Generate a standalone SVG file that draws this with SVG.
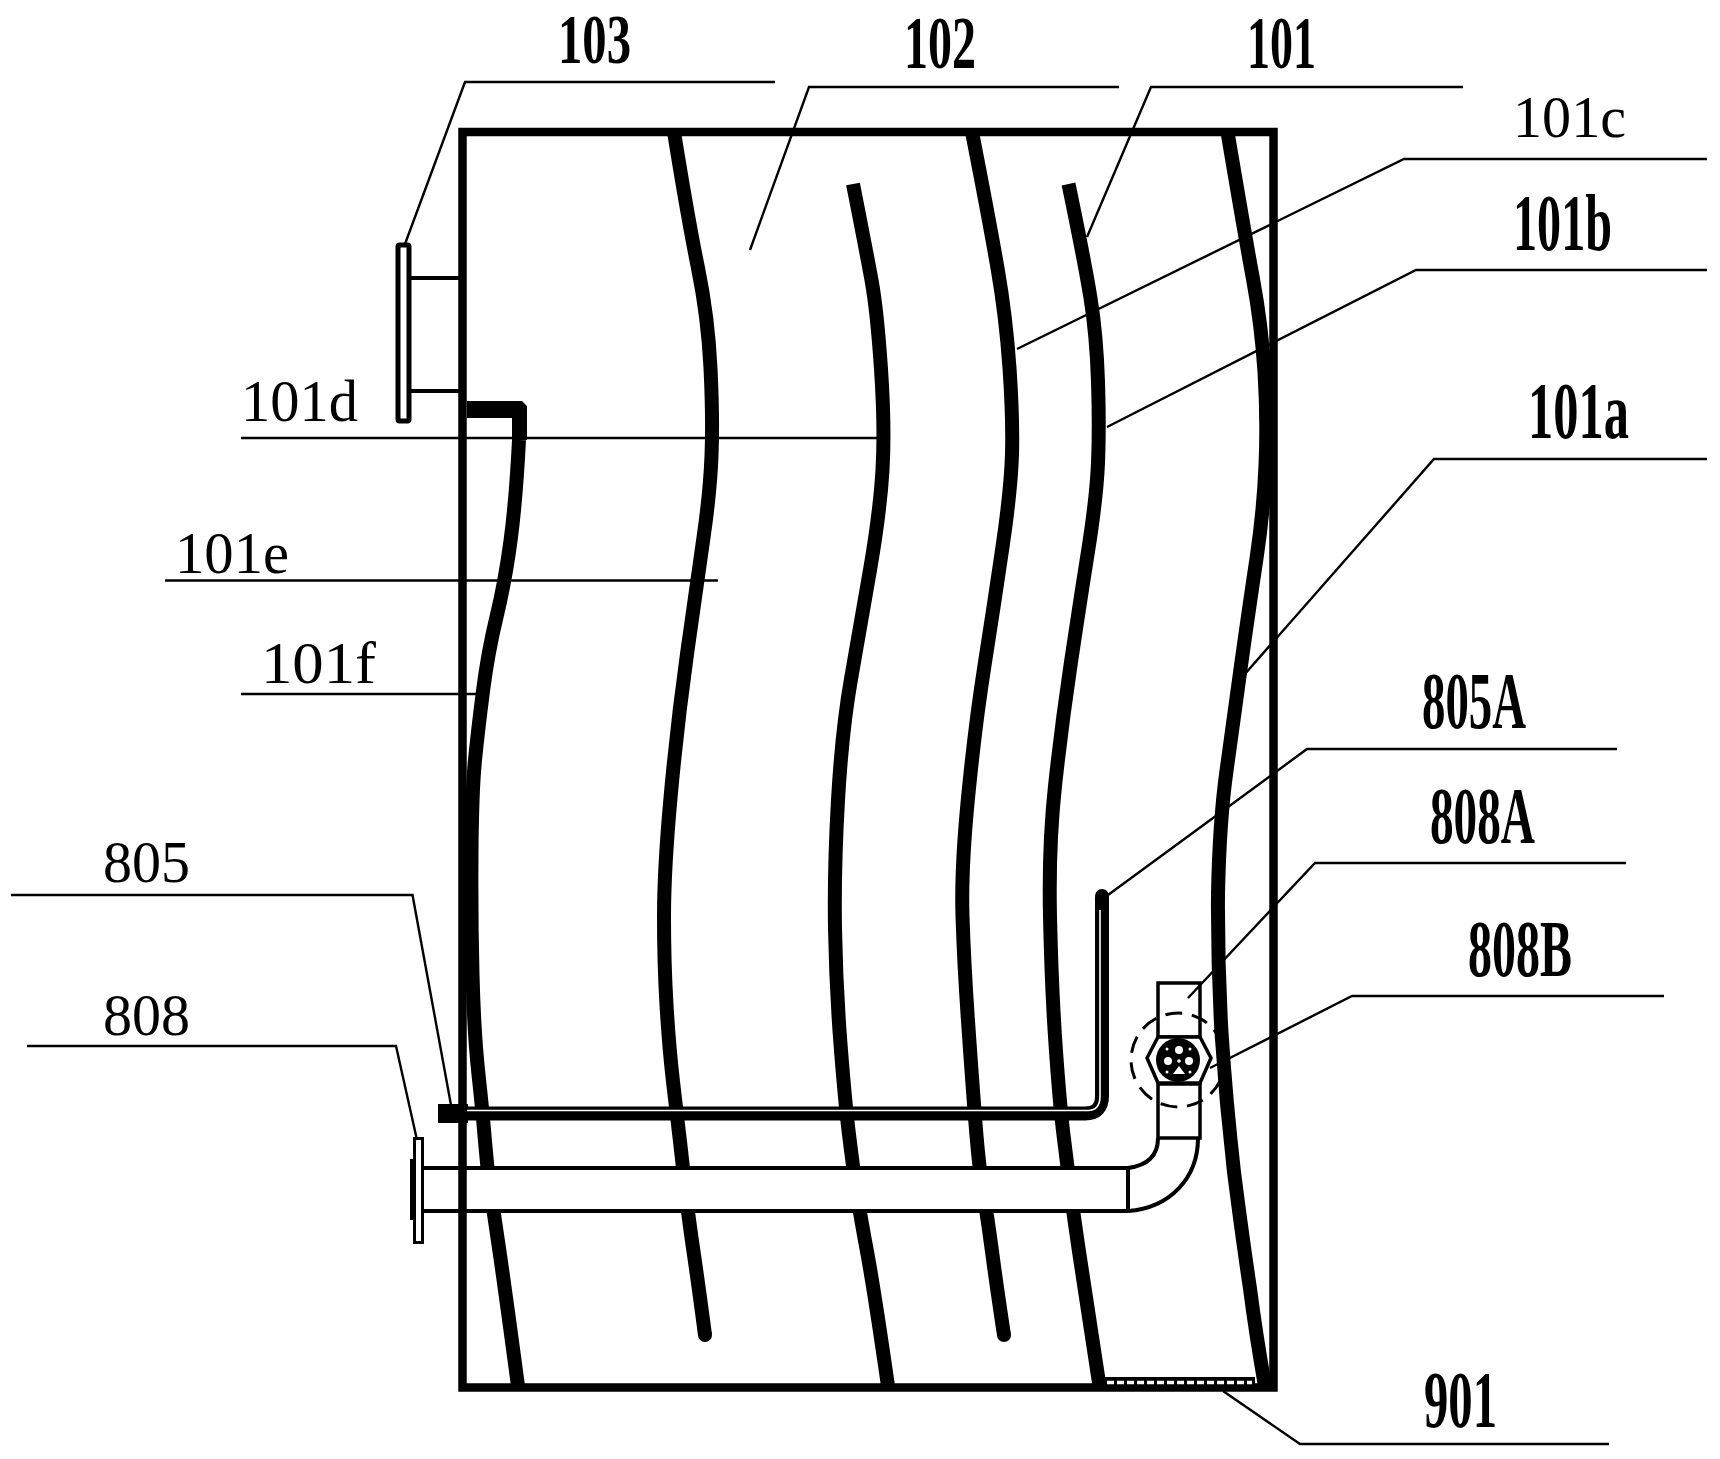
<svg xmlns="http://www.w3.org/2000/svg" width="1720" height="1459" viewBox="0 0 1720 1459">
<style>
.fin{fill:none;stroke:#000;stroke-width:14;stroke-linejoin:round}
.lead{fill:none;stroke:#000;stroke-width:2.4;stroke-linejoin:miter}
.pipe{fill:none;stroke:#000;stroke-width:4}
.heavy{font-family:"Liberation Serif",serif;font-weight:700;fill:#000}
.thin{font-family:"Liberation Serif",serif;font-weight:400;fill:#000}
</style>
<rect width="1720" height="1459" fill="#fff"/>
<g id="fins">
<path class="fin" d="M519 440Q516 500 510.5 541Q505 582 496.5 617Q488 652 483 691Q478 730 475 760Q472 790 471.5 853Q471 916 472.5 974.5Q474 1033 478.5 1074.5Q483 1116 485 1141.5Q487 1167 490.5 1190.5Q494 1214 499.5 1251.5Q505 1289 518 1386"/>
<path class="fin" d="M674 132Q688 219 698 268Q708 317 710.5 368Q713 419 711.5 456Q710 493 703.5 537.5Q697 582 687 654Q677 726 670.5 798Q664 870 664 916.5Q664 963 666.5 1005Q669 1047 673 1081.5Q677 1116 680 1141.5Q683 1167 685.5 1190Q688 1214 693.5 1251.5Q699 1289 705 1335"/>
<circle cx="705" cy="1335" r="7"/>
<path class="fin" d="M853 184Q866 250 871.5 280Q877 310 881 369Q885 428 882.5 470Q880 512 870 570Q860 628 851 679Q842 730 838 800Q834 870 835 928Q836 986 840.5 1044Q845 1102 849 1134.5Q853 1167 856.5 1190.5Q860 1214 867 1251.5Q874 1289 888 1386"/>
<path class="fin" d="M972 132Q989 219 997.5 268Q1006 317 1009.5 368Q1013 419 1012 454Q1011 489 1002.5 547Q994 605 984.5 665.5Q975 726 968 798Q961 870 962.5 916.5Q964 963 968 1021Q972 1079 975.5 1123.5Q979 1168 983 1191Q987 1214 992 1251.5Q997 1289 1004 1335"/>
<circle cx="1004" cy="1335" r="7"/>
<path class="fin" d="M1068.5 184Q1084.5 261 1090.5 298Q1096.5 335 1098 381.5Q1099.5 428 1098 463Q1096.5 498 1088 551.5Q1079.5 605 1070.5 665.5Q1061.5 726 1055 786Q1048.5 846 1050 916Q1051.5 986 1055.5 1044Q1059.5 1102 1063.5 1135Q1067.5 1168 1070.5 1191Q1073.5 1214 1079 1251.5Q1084.5 1289 1099.5 1386"/>
<path class="fin" d="M1227.5 132Q1244.5 233 1253 279Q1261.5 325 1264.5 372Q1267.5 419 1265.5 465.5Q1263.5 512 1256.5 558.5Q1249.5 605 1241 665.5Q1232.5 726 1226 774.5Q1219.5 823 1218 893Q1217.5 963 1221.5 1032.5Q1226 1102 1234 1172Q1243 1242 1250 1288.5Q1256 1335 1265 1386"/>
<path d="M467 401H522L527 406V440H512V418H467Z" fill="#000"/>
</g>
<g id="pipe-808">
<rect x="424" y="1168" width="704" height="43" fill="#fff" stroke="none"/>
<path class="pipe" d="M424 1168H1128M424 1211H1128M1128 1168V1211"/>
<path class="pipe" d="M1128 1168Q1158 1164 1158 1138M1128 1211C1170 1208 1198 1178 1198 1138"/>
<rect x="414.5" y="1138.5" width="8" height="104" fill="#fff" stroke="#000" stroke-width="3"/>
<rect x="410" y="1159" width="4" height="61" fill="#000"/>
</g>
<g id="pipe-805">
<path d="M438 1113.5H1085Q1102 1113.5 1102 1096V897" fill="none" stroke="#000" stroke-width="14"/>
<circle cx="1102" cy="896" r="7" fill="#000"/>
<rect x="438" y="1104" width="30" height="19" fill="#000"/>
<path d="M467 1110.5H1088Q1100 1110.5 1100 1096V910" fill="none" stroke="#fff" stroke-width="1.6"/>
</g>
<g id="valve-808">
<rect x="1158" y="983" width="42" height="54" fill="#fff" stroke="#000" stroke-width="3.5"/>
<rect x="1158" y="1084" width="42" height="54" fill="#fff" stroke="#000" stroke-width="3.5"/>
<path d="M1158 1037L1147 1058L1158 1083H1200L1211 1058L1200 1037Z" fill="#fff" stroke="#000" stroke-width="3.5"/>
<circle cx="1178" cy="1060" r="22" fill="#000"/>
<g fill="#fff">
<circle cx="1179" cy="1050" r="4"/><circle cx="1168" cy="1061" r="4"/><circle cx="1189" cy="1061" r="4"/>
<circle cx="1179" cy="1061" r="1.8"/><path d="M1179 1066L1185 1074H1173Z"/>
<circle cx="1167" cy="1049" r="1.5"/><circle cx="1190" cy="1049" r="1.5"/><circle cx="1167" cy="1072" r="1.5"/><circle cx="1190" cy="1072" r="1.5"/>
</g>
<circle cx="1178" cy="1060" r="47" fill="none" stroke="#000" stroke-width="3" stroke-dasharray="17 9.8" stroke-dashoffset="6"/>
</g>
<g id="housing">
<rect x="462.5" y="132" width="811" height="1255.5" fill="none" stroke="#000" stroke-width="8.5"/>
</g>
<g id="flange-103">
<rect x="398" y="245" width="11" height="176" fill="#fff" stroke="#000" stroke-width="5" rx="1.5"/>
<path class="pipe" d="M411 278H459M411 391H459"/>
</g>
<g id="mesh-901">
<rect x="1104" y="1377" width="151" height="9" fill="#000"/>
<path d="M1107 1382.5H1252" fill="none" stroke="#fff" stroke-width="3.6" stroke-dasharray="7 3"/>
</g>
<g id="connectors">
<path class="lead" d="M405 244L465 82H775"/>
<path class="lead" d="M750 250L809 87H1119"/>
<path class="lead" d="M1087 237L1151 87H1463"/>
<path class="lead" d="M1017 349L1404 159H1707"/>
<path class="lead" d="M1107 427L1416 270H1707"/>
<path class="lead" d="M1244 675L1434 459H1707"/>
<path class="lead" d="M241 438H880"/>
<path class="lead" d="M165 580.5H718" stroke-width="3"/>
<path class="lead" d="M241 694H480"/>
<path class="lead" d="M11 895H412.5L451 1105"/>
<path class="lead" d="M27 1046H396L417 1140"/>
<path class="lead" d="M1108 895L1307 749H1617"/>
<path class="lead" d="M1188 998L1315 863H1626"/>
<path class="lead" d="M1210 1068L1352 996H1664"/>
<path class="lead" d="M1223 1391L1300 1444H1609"/>
</g>
<g id="labels">
<text class="heavy" x="558" y="63" font-size="70" textLength="73" lengthAdjust="spacingAndGlyphs">103</text>
<text class="heavy" x="904" y="67.5" font-size="75" textLength="72" lengthAdjust="spacingAndGlyphs">102</text>
<text class="heavy" x="1247" y="67.5" font-size="75" textLength="69" lengthAdjust="spacingAndGlyphs">101</text>
<text class="thin" x="1513" y="137" font-size="60" textLength="113" lengthAdjust="spacingAndGlyphs">101c</text>
<text class="heavy" x="1513" y="250" font-size="80" textLength="99" lengthAdjust="spacingAndGlyphs">101b</text>
<text class="heavy" x="1528" y="438" font-size="80" textLength="101" lengthAdjust="spacingAndGlyphs">101a</text>
<text class="thin" x="241" y="421" font-size="60" textLength="117" lengthAdjust="spacingAndGlyphs">101d</text>
<text class="thin" x="175" y="573" font-size="60" textLength="114" lengthAdjust="spacingAndGlyphs">101e</text>
<text class="thin" x="261" y="683" font-size="60" textLength="115" lengthAdjust="spacingAndGlyphs">101f</text>
<text class="heavy" x="1422" y="728" font-size="80" textLength="104" lengthAdjust="spacingAndGlyphs">805A</text>
<text class="heavy" x="1430" y="843" font-size="80" textLength="105" lengthAdjust="spacingAndGlyphs">808A</text>
<text class="heavy" x="1468" y="976" font-size="80" textLength="104" lengthAdjust="spacingAndGlyphs">808B</text>
<text class="heavy" x="1424" y="1427" font-size="80" textLength="73" lengthAdjust="spacingAndGlyphs">901</text>
<text class="thin" x="103" y="882" font-size="60" textLength="87" lengthAdjust="spacingAndGlyphs">805</text>
<text class="thin" x="103" y="1035" font-size="60" textLength="87" lengthAdjust="spacingAndGlyphs">808</text>
</g>
</svg>
